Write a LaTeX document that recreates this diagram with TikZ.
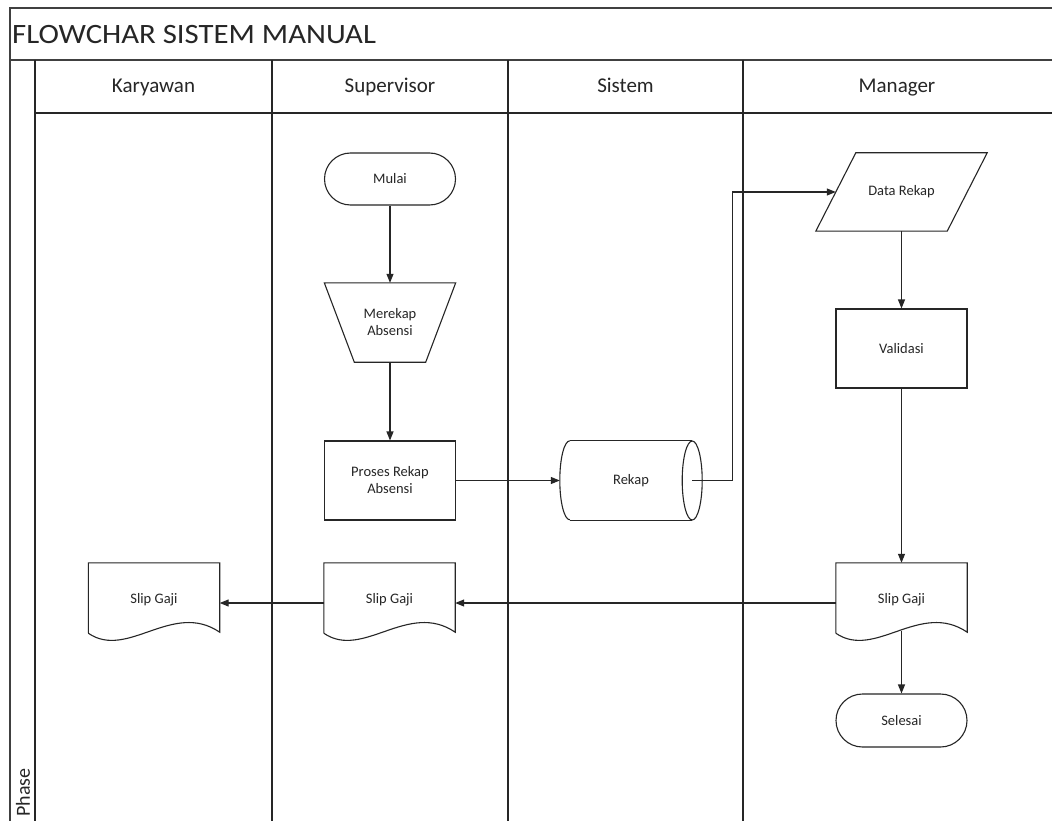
\documentclass[tikz,border=0pt]{standalone}
\usepackage{fontspec}
\setmainfont{Carlito}
\usetikzlibrary{shapes.misc,arrows.meta,calc}
\newcommand\mydocshape[1]{%
  \draw[flow] ($(#1.south west)+(0,-10)$) -- (#1.north west) -- (#1.north east)
    -- ($(#1.south east)+(0,-11)$)
    .. controls ($(#1.south east)+(-47,-43)$) and ($(#1.south west)+(39,17)$) .. ($(#1.south west)+(0,-10)$);}
\begin{document}
\begin{tikzpicture}[x=1pt,y=-1pt,
  frame/.style={line width=1.8pt, draw=black!75},
  lane/.style={line width=1.3pt, draw=black!85},
  flow/.style={line width=1.1pt, draw=black!85},
  arr/.style={flow, -{Triangle[length=9pt,width=7pt]}},
  txt/.style={font=\fontsize{14.5}{17}\selectfont, align=center, inner sep=0pt, text=black!85},
  box/.style={txt, draw=none, minimum width=131pt},
  term/.style={txt, rounded rectangle, draw=black!85, line width=1.1pt, minimum width=131pt, minimum height=52pt},
  proc/.style={txt, rectangle, draw=black!85, line width=1.1pt, minimum width=131pt, minimum height=79pt},
  hdr/.style={font=\fontsize{21}{24}\selectfont, inner sep=0pt, text=black!85, anchor=base}
]
\useasboundingbox (0,0) rectangle (1052,821);
\fill[white] (0,0) rectangle (1052,821);

% frame and lanes
\draw[frame] (10,821) -- (10,8) -- (1052,8);
\draw[frame] (10,60) -- (1052,60);
\draw[lane] (35,113) -- (1052,113);
\foreach \x in {35,272,508,743} \draw[lane] (\x,60) -- (\x,821);

\node[anchor=west, font=\fontsize{28}{32}\selectfont, inner sep=0pt, text=black!85] (title) at (12,35) {\scalebox{1.1}[1]{FLOWCHAR SISTEM MANUAL}};
\node[hdr] (h1) at (153.5,93) {Karyawan};
\node[hdr] (h2) at (390,93) {Supervisor};
\node[hdr] (h3) at (625.5,93) {Sistem};
\node[hdr] (h4) at (897,93) {Manager};
\node[rotate=90, anchor=west, font=\fontsize{20}{22}\selectfont, inner sep=0pt, text=black!85] (phase) at (23,817) {Phase};

% supervisor lane
\node[term] (mulai) at (390,179) {Mulai};
\node[box, minimum height=79pt] (merekap) at (390,322.5) {Merekap\\Absensi};
\draw[flow] (merekap.north west) -- (merekap.north east) -- ($(merekap.south east)+(-30,0)$) -- ($(merekap.south west)+(30,0)$) -- cycle;
\node[proc] (proses) at (390,480.5) {Proses Rekap\\Absensi};
\node[box, minimum height=80pt] (slipS) at (389.5,603) {\raisebox{10pt}{Slip Gaji}};
\mydocshape{slipS}

% karyawan lane
\node[box, minimum height=80pt] (slipK) at (154,603) {\raisebox{10pt}{Slip Gaji}};
\mydocshape{slipK}

% sistem lane
\node[box, minimum width=142pt, minimum height=79pt] (rekap) at (631,480.5) {Rekap};
\draw[flow] ($(rekap.north west)+(10,0)$) -- ($(rekap.north east)+(-10,0)$);
\draw[flow] ($(rekap.south west)+(10,0)$) -- ($(rekap.south east)+(-10,0)$);
\draw[flow] ($(rekap.east)+(-10,0)$) ellipse [x radius=10, y radius=39.5];
\draw[flow] ($(rekap.north west)+(10,0)$) arc [start angle=270, end angle=90, x radius=10, y radius=39.5];

% manager lane
\node[box, minimum height=78pt] (data) at (901.5,192) {Data Rekap};
\draw[flow] ($(data.north west)+(20,0)$) -- ($(data.north east)+(20,0)$) -- ($(data.south east)+(-20,0)$) -- ($(data.south west)+(-20,0)$) -- cycle;
\node[proc] (valid) at (901.5,348.5) {Validasi};
\node[box, minimum height=80pt] (slipM) at (901.5,603) {\raisebox{10pt}{Slip Gaji}};
\mydocshape{slipM}
\node[term, minimum height=53pt] (selesai) at (901.5,720.5) {Selesai};

% connectors
\draw[arr] (mulai.south) -- (merekap.north);
\draw[arr] (merekap.south) -- (proses.north);
\draw[arr] (proses.east) -- (rekap.west);
\draw[arr] ($(rekap.east)+(-10,0)$) -- ++(40,0) |- (data.west);
\draw[arr] (data.south) -- (valid.north);
\draw[arr] (valid.south) -- (slipM.north);
\draw[arr] (slipM.west) -- (slipS.east);
\draw[arr] (slipS.west) -- (slipK.east);
\draw[arr] ($(slipM.south)+(0,-12)$) -- (selesai.north);
\end{tikzpicture}
\end{document}
